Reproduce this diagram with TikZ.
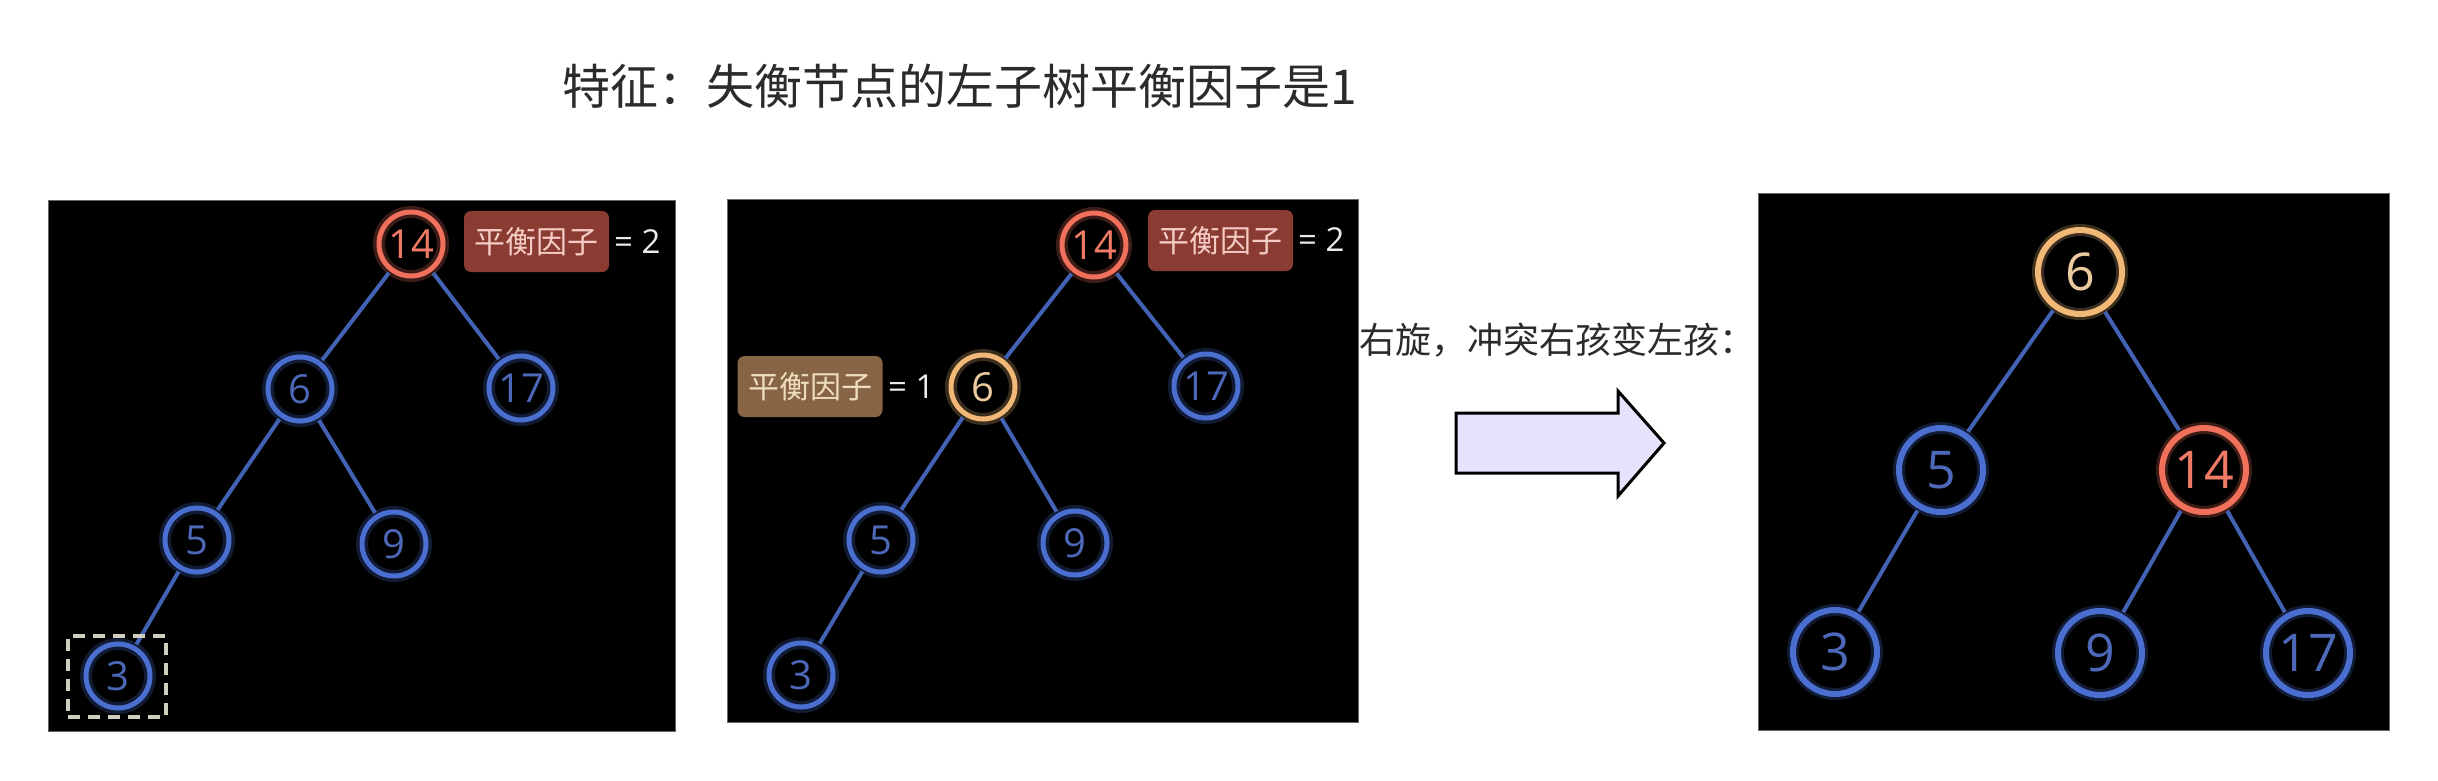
\documentclass[tikz,border=0pt]{standalone}
\usepackage{fontspec}
\setmainfont{Open Sans}
\newfontfamily\cjk{Noto Sans CJK SC}
\newfontfamily\numfont{Open Sans}
\definecolor{nblue}{HTML}{4B6FD0}
\definecolor{tblue}{HTML}{4D68B8}
\definecolor{ered}{HTML}{F0705C}
\definecolor{tred}{HTML}{F07A66}
\definecolor{eorange}{HTML}{F2B878}
\definecolor{torange}{HTML}{EACA9E}
\definecolor{edgeblue}{HTML}{4262B4}
\definecolor{redbox}{HTML}{8A3B32}
\definecolor{redboxtext}{HTML}{F4CCC4}
\definecolor{brownbox}{HTML}{876444}
\definecolor{brownboxtext}{HTML}{EEDCBE}
\definecolor{arrowfill}{HTML}{E8E2FC}
\definecolor{titlegray}{HTML}{2B2B2B}
\definecolor{dashgray}{HTML}{CFCFC0}
\begin{document}
\begin{tikzpicture}[x=1pt,y=-1pt,
  panel/.style={fill=black, draw=black!60, line width=1pt},
  tnode/.style={circle, inner sep=0pt, minimum size=64pt, line width=5pt,
     font=\numfont\fontsize{40}{40}\selectfont},
  bignode/.style={tnode, minimum size=84pt, line width=6pt,
     font=\numfont\fontsize{52}{52}\selectfont},
  blue/.style={draw=nblue, text=tblue, preaction={draw=nblue, line width=12pt, opacity=0.25}},
  red/.style={draw=ered, text=tred, preaction={draw=ered, line width=12pt, opacity=0.25}},
  orange/.style={draw=eorange, text=torange, preaction={draw=eorange, line width=12pt, opacity=0.25}},
  edge/.style={draw=edgeblue, line width=4pt, shorten <=2pt, shorten >=2pt},
  tag/.style={rounded corners=7pt, minimum width=145pt, minimum height=61pt, inner sep=0pt,
     font=\cjk\fontsize{31}{31}\selectfont},
  eqtext/.style={anchor=west, inner sep=0pt, text=black!8, font=\numfont\fontsize{33}{33}\selectfont},
]
\useasboundingbox (0,0) rectangle (2438,780);
\fill[white] (0,0) rectangle (2438,780);

% title and caption
\node[inner sep=0pt, text=titlegray, font=\cjk\fontsize{48}{48}\selectfont] (title) at (960,86) {特征：失衡节点的左子树平衡因子是1};
\node[inner sep=0pt, text=titlegray, font=\cjk\fontsize{36}{36}\selectfont] (caption) at (1557,340) {右旋，冲突右孩变左孩：};

% panels
\draw[panel] (48,200) rectangle (675,731);
\draw[panel] (727,199) rectangle (1358,722);
\draw[panel] (1758,193) rectangle (2389,730);

% ---------- panel 1
\node[tnode, red]  (a14) at (411,244) {14};
\node[tnode, blue] (a6)  at (300,389) {6};
\node[tnode, blue] (a17) at (521,388) {17};
\node[tnode, blue] (a5)  at (197,540) {5};
\node[tnode, blue] (a9)  at (394,544) {9};
\node[tnode, blue] (a3)  at (118,676) {3};
\draw[edge] (a14) -- (a6);
\draw[edge] (a14) -- (a17);
\draw[edge] (a6) -- (a5);
\draw[edge] (a6) -- (a9);
\draw[edge] (a5) -- (a3);
\node[tag, fill=redbox, text=redboxtext] (atag) at (536.5,241.5) {平衡因子};
\node[eqtext] (aeq) at (614,242) {= 2};
\node[draw=dashgray, dash pattern=on 12pt off 8pt, line width=4pt,
      minimum width=98pt, minimum height=81pt, inner sep=0pt] (abox) at (117,676.5) {};

% ---------- panel 2
\node[tnode, red]    (b14) at (1094,245) {14};
\node[tnode, orange] (b6)  at (983,387) {6};
\node[tnode, blue]   (b17) at (1206,386) {17};
\node[tnode, blue]   (b5)  at (881,540) {5};
\node[tnode, blue]   (b9)  at (1075,543) {9};
\node[tnode, blue]   (b3)  at (801,675) {3};
\draw[edge] (b14) -- (b6);
\draw[edge] (b14) -- (b17);
\draw[edge] (b6) -- (b5);
\draw[edge] (b6) -- (b9);
\draw[edge] (b5) -- (b3);
\node[tag, fill=redbox, text=redboxtext] (btag) at (1220.5,240.5) {平衡因子};
\node[eqtext] (beq) at (1298,240) {= 2};
\node[tag, fill=brownbox, text=brownboxtext] (btag2) at (810,386.5) {平衡因子};
\node[eqtext] (beq2) at (888,387) {= 1};

% ---------- arrow
\draw[fill=arrowfill, draw=black, line width=3pt, line join=miter]
  (1456,413) -- (1618,413) -- (1618,391) -- (1664,443) -- (1618,496) -- (1618,473) -- (1456,473) -- cycle;

% ---------- panel 3
\node[bignode, orange] (c6)  at (2080,272) {6};
\node[bignode, blue]   (c5)  at (1941,470) {5};
\node[bignode, red]    (c14) at (2204,470) {14};
\node[bignode, blue]   (c3)  at (1835,652) {3};
\node[bignode, blue]   (c9)  at (2100,653) {9};
\node[bignode, blue]   (c17) at (2308,653) {17};
\draw[edge] (c6) -- (c5);
\draw[edge] (c6) -- (c14);
\draw[edge] (c5) -- (c3);
\draw[edge] (c14) -- (c9);
\draw[edge] (c14) -- (c17);
\end{tikzpicture}
\end{document}
